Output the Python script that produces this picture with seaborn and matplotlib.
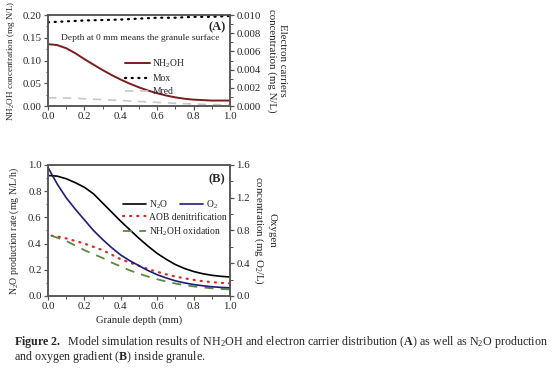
import numpy as np
import pandas as pd
import matplotlib
matplotlib.use("Agg")
import matplotlib.pyplot as plt
import seaborn as sns
from matplotlib.ticker import MultipleLocator, FormatStrFormatter

# depth grids (mm)
depth = [0.0, 0.05, 0.1, 0.15, 0.2, 0.25, 0.3, 0.35, 0.4, 0.45, 0.5,
         0.55, 0.6, 0.65, 0.7, 0.75, 0.8, 0.85, 0.9, 0.95, 1.0]
depth_rate = [0.02] + depth[1:]
depth_carrier = [0.0, 0.1, 0.2, 0.3, 0.4, 0.5, 0.6, 0.7, 0.8, 0.9, 1.0]

# panel A
nh2oh = [0.136, 0.134, 0.127, 0.116, 0.103, 0.091, 0.079, 0.068, 0.058, 0.049, 0.041,
         0.034, 0.028, 0.023, 0.019, 0.016, 0.014, 0.013, 0.012, 0.012, 0.012]
mox = [0.0092, 0.0093, 0.0094, 0.00945, 0.0095, 0.0096, 0.0097, 0.0097, 0.0098, 0.0098, 0.0099]
mred = [0.0009, 0.00088, 0.0008, 0.0007, 0.0006, 0.0005, 0.0004, 0.0003, 0.00022, 0.00016, 0.00013]

# panel B
n2o = [0.920, 0.915, 0.895, 0.865, 0.83, 0.78, 0.71, 0.64, 0.57, 0.505, 0.44,
       0.38, 0.325, 0.28, 0.24, 0.21, 0.187, 0.17, 0.158, 0.15, 0.145]
o2 = [1.57, 1.37, 1.20, 1.06, 0.93, 0.80, 0.69, 0.59, 0.50, 0.43, 0.37,
      0.31, 0.26, 0.22, 0.185, 0.16, 0.14, 0.125, 0.113, 0.105, 0.10]
aob = [0.46, 0.455, 0.44, 0.42, 0.40, 0.375, 0.35, 0.315, 0.28, 0.255, 0.23,
       0.205, 0.185, 0.165, 0.148, 0.135, 0.123, 0.113, 0.106, 0.10, 0.097]
nh2oh_ox = [0.46, 0.445, 0.42, 0.385, 0.35, 0.32, 0.29, 0.255, 0.225, 0.195, 0.17,
            0.148, 0.128, 0.11, 0.095, 0.083, 0.073, 0.065, 0.059, 0.054, 0.05]

sns.set_style("ticks")
plt.rcParams["font.family"] = ["Liberation Serif", "DejaVu Serif"]
plt.rcParams["mathtext.fontset"] = "custom"
plt.rcParams["mathtext.rm"] = "Liberation Serif"
plt.rcParams["mathtext.it"] = "Liberation Serif:italic"
plt.rcParams["mathtext.bf"] = "Liberation Serif:bold"
plt.rcParams["font.size"] = 8

fig = plt.figure(figsize=(5.54, 3.77), dpi=100)
axA = fig.add_axes([0.0866, 0.7188, 0.3285, 0.2414])
axB = fig.add_axes([0.0866, 0.2149, 0.3285, 0.3475])
axA2 = axA.twinx()
axB2 = axB.twinx()

spine_col = "#555555"
tick_fs = 7.8
leg_fs = 6.9

def style(ax):
    for s in ax.spines.values():
        s.set_visible(True)
        s.set_color(spine_col)
        s.set_linewidth(1.1)
    ax.tick_params(which="both", direction="out", color=spine_col, labelsize=tick_fs,
                   pad=1.5, top=False)
    ax.tick_params(which="major", length=3, width=0.9)
    ax.tick_params(which="minor", length=1.8, width=0.7)

# ---- panel A
sns.lineplot(x=depth, y=nh2oh, ax=axA, color="#7a1c1c", lw=1.4, legend=False)
sns.lineplot(x=depth_carrier, y=mox, ax=axA2, color="black", lw=1.6,
             linestyle=(0, (0.5, 2.5)), dash_capstyle="round", legend=False)
sns.lineplot(x=depth_carrier, y=mred, ax=axA2, color="#c8c8c8", lw=1.2,
             linestyle=(0, (5, 4)), legend=False)

axA.set_xlim(0, 1)
axA.set_ylim(0, 0.20)
axA2.set_ylim(0, 0.010)
axA.xaxis.set_major_locator(MultipleLocator(0.2))
axA.xaxis.set_minor_locator(MultipleLocator(0.1))
axA.yaxis.set_major_locator(MultipleLocator(0.05))
axA.yaxis.set_minor_locator(MultipleLocator(0.025))
axA2.yaxis.set_major_locator(MultipleLocator(0.002))
axA2.yaxis.set_minor_locator(MultipleLocator(0.001))
axA.xaxis.set_major_formatter(FormatStrFormatter("%.1f"))
axA.yaxis.set_major_formatter(FormatStrFormatter("%.2f"))
axA2.yaxis.set_major_formatter(FormatStrFormatter("%.3f"))
for ax in (axA, axA2):
    style(ax)
axA.set_ylabel("NH$_2$OH concentration (mg N/L)", fontsize=6.6, labelpad=4)
axA2.set_ylabel("Electron carriers\nconcentration (mg N/L)", fontsize=7.8,
                rotation=270, labelpad=19, linespacing=1.15)
axA.text(0.975, 0.93, "(A)", transform=axA.transAxes, ha="right", va="top",
         fontsize=9, fontweight="bold")
axA.text(0.07, 0.75, "Depth at 0 mm means the granule surface", transform=axA.transAxes,
         ha="left", va="center", fontsize=6.8)
hA = axA.get_lines()[:1] + axA2.get_lines()[:2]
axA.legend(hA, ["NH$_2$OH", "Mox", "Mred"], loc="upper left", bbox_to_anchor=(0.39, 0.6),
           frameon=False, fontsize=leg_fs, handlelength=2.6, handletextpad=0.3,
           labelspacing=0.45, borderpad=0.1)

# ---- panel B
sns.lineplot(x=depth, y=n2o, ax=axB, color="black", lw=1.2, legend=False)
sns.lineplot(x=depth_rate, y=aob, ax=axB, color="#d42a2a", lw=1.6,
             linestyle=(0, (0.5, 2.7)), dash_capstyle="round", legend=False)
sns.lineplot(x=depth_rate, y=nh2oh_ox, ax=axB, color="#5a8a3c", lw=1.3,
             linestyle=(0, (5, 4)), legend=False)
sns.lineplot(x=depth, y=o2, ax=axB2, color="#1c1c7a", lw=1.2, legend=False)

axB.set_xlim(0, 1)
axB.set_ylim(0, 1.0)
axB2.set_ylim(0, 1.6)
axB.xaxis.set_major_locator(MultipleLocator(0.2))
axB.xaxis.set_minor_locator(MultipleLocator(0.1))
axB.yaxis.set_major_locator(MultipleLocator(0.2))
axB.yaxis.set_minor_locator(MultipleLocator(0.1))
axB2.yaxis.set_major_locator(MultipleLocator(0.4))
axB2.yaxis.set_minor_locator(MultipleLocator(0.2))
axB.xaxis.set_major_formatter(FormatStrFormatter("%.1f"))
axB.yaxis.set_major_formatter(FormatStrFormatter("%.1f"))
axB2.yaxis.set_major_formatter(FormatStrFormatter("%.1f"))
for ax in (axB, axB2):
    style(ax)
axB.set_xlabel("Granule depth (mm)", fontsize=7.6, labelpad=3)
axB.set_ylabel("N$_2$O production rate (mg N/L/h)", fontsize=7.0, labelpad=5)
axB2.set_ylabel("Oxygen\nconcentration (mg O$_2$/L)", fontsize=7.8,
                rotation=270, labelpad=19, linespacing=1.15)
axB.text(0.975, 0.94, "(B)", transform=axB.transAxes, ha="right", va="top",
         fontsize=9, fontweight="bold")
lB = axB.get_lines()
leg1 = axB.legend([lB[0], axB2.get_lines()[0]], ["N$_2$O", "O$_2$"], ncol=2,
                  loc="upper left", bbox_to_anchor=(0.38, 0.79), frameon=False, fontsize=leg_fs,
                  handlelength=2.4, handletextpad=0.3, columnspacing=1.3, borderpad=0.1)
axB.add_artist(leg1)
axB.legend([lB[1], lB[2]], ["AOB denitrification", "NH$_2$OH oxidation"],
           loc="upper left", bbox_to_anchor=(0.38, 0.68), frameon=False, fontsize=leg_fs,
           handlelength=2.4, handletextpad=0.3, labelspacing=0.35, borderpad=0.1)

# caption
fig.text(0.025, 0.092, r"$\mathbf{Figure\ 2.}$  Model simulation results of NH$_2$OH and electron carrier "
         r"distribution ($\mathbf{A}$) as well as N$_2$O production", fontsize=8.65, va="center")
fig.text(0.025, 0.054, r"and oxygen gradient ($\mathbf{B}$) inside granule.", fontsize=8.65, va="center")

fig.savefig("out.png", dpi=100)
